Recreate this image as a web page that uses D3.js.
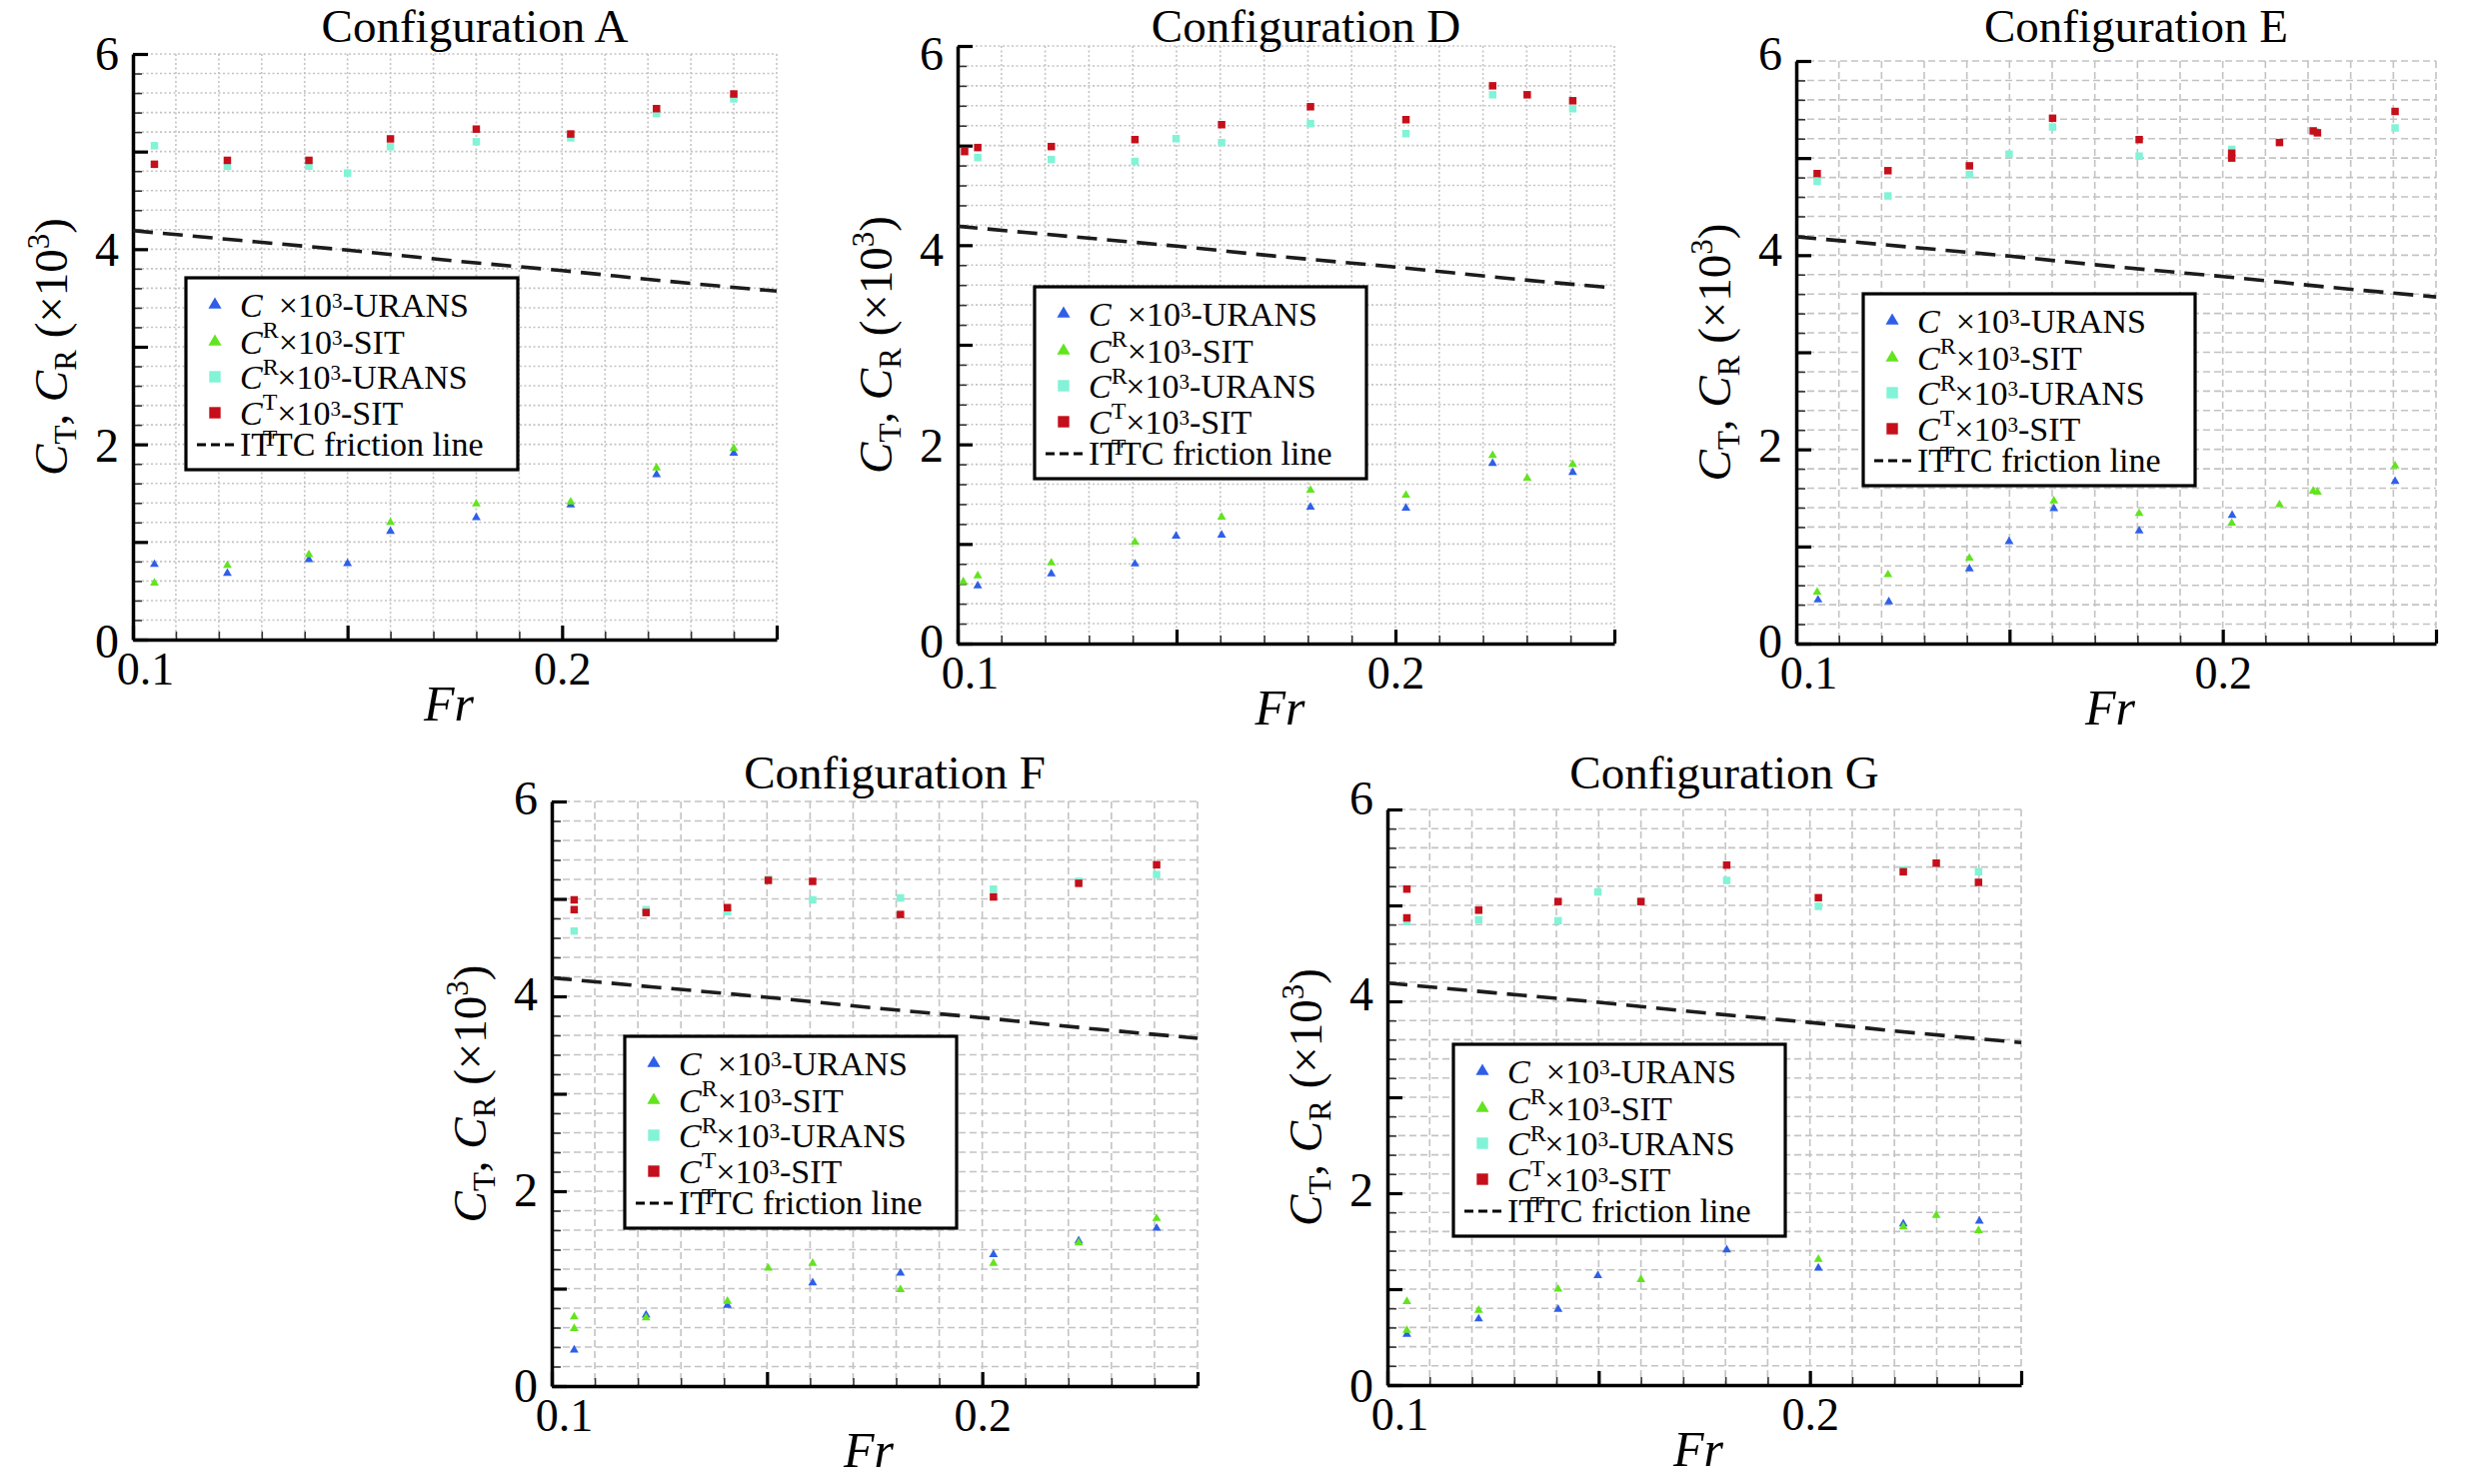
<!DOCTYPE html>
<html><head><meta charset="utf-8">
<script src="https://cdn.jsdelivr.net/npm/d3@7"></script>
<style>
body{margin:0;background:#fff}
svg{display:block}
text{font-family:"Liberation Serif","Times New Roman","DejaVu Serif",serif;fill:#000}
</style>
</head><body>
<svg id="chart" width="2482" height="1485" font-family="Liberation Serif, Times New Roman, serif"></svg>
<script>
// ---------------- DATA (Fr, value x10^3) ----------------
const xTickLabels = [0.1, 0.2];
const yTickLabels = [0, 2, 4, 6];
const seriesNames = ["C_R×10³-URANS", "C_R×10³-SIT", "C_T×10³-URANS", "C_T×10³-SIT", "ITTC friction line"];

const ittcFr = [0.100, 0.125, 0.150, 0.175, 0.200, 0.225, 0.250];
const ittcCF = [4.19, 4.09, 3.99, 3.88, 3.78, 3.67, 3.57];

const A_CR_URANS = [[0.105,0.77],[0.122,0.68],[0.141,0.82],[0.150,0.78],[0.160,1.11],[0.180,1.25],[0.202,1.38],[0.222,1.69],[0.240,1.91]];
const A_CR_SIT   = [[0.105,0.58],[0.122,0.76],[0.141,0.87],[0.160,1.20],[0.180,1.39],[0.202,1.41],[0.222,1.76],[0.240,1.96]];
const A_CT_URANS = [[0.105,5.06],[0.122,4.85],[0.141,4.85],[0.150,4.78],[0.160,5.05],[0.180,5.10],[0.202,5.14],[0.222,5.39],[0.240,5.54]];
const A_CT_SIT   = [[0.105,4.87],[0.122,4.91],[0.141,4.91],[0.160,5.13],[0.180,5.23],[0.202,5.18],[0.222,5.44],[0.240,5.59]];

const D_CR_URANS = [[0.1046,0.58],[0.1214,0.70],[0.1405,0.80],[0.1499,1.08],[0.1603,1.09],[0.1806,1.37],[0.2024,1.36],[0.2222,1.81],[0.2405,1.72]];
const D_CR_SIT   = [[0.1013,0.62],[0.1046,0.68],[0.1214,0.81],[0.1405,1.02],[0.1603,1.27],[0.1806,1.54],[0.2024,1.49],[0.2222,1.89],[0.2301,1.66],[0.2405,1.80]];
const D_CT_URANS = [[0.1046,4.88],[0.1214,4.86],[0.1405,4.84],[0.1499,5.07],[0.1603,5.03],[0.1806,5.22],[0.2024,5.12],[0.2222,5.51],[0.2405,5.37]];
const D_CT_SIT   = [[0.1016,4.94],[0.1046,4.98],[0.1214,4.99],[0.1405,5.06],[0.1603,5.21],[0.1806,5.39],[0.2024,5.26],[0.2222,5.60],[0.2301,5.51],[0.2405,5.45]];

const E_CR_URANS = [[0.1051,0.45],[0.1217,0.43],[0.1406,0.77],[0.1499,1.05],[0.1604,1.39],[0.1804,1.16],[0.2022,1.32],[0.2404,1.67]];
const E_CR_SIT   = [[0.1049,0.53],[0.1215,0.71],[0.1406,0.88],[0.1604,1.47],[0.1804,1.34],[0.2021,1.24],[0.2133,1.43],[0.2212,1.57],[0.2222,1.56],[0.2404,1.83]];
const E_CT_URANS = [[0.1049,4.76],[0.1215,4.61],[0.1406,4.83],[0.1499,5.04],[0.1601,5.32],[0.1804,5.02],[0.2021,5.09],[0.2217,5.27],[0.2404,5.31]];
const E_CT_SIT   = [[0.1049,4.84],[0.1215,4.87],[0.1406,4.92],[0.1601,5.41],[0.1804,5.19],[0.2021,5.05],[0.2021,5.00],[0.2133,5.16],[0.2212,5.28],[0.2222,5.26],[0.2404,5.48]];

const F_CR_URANS = [[0.1052,0.37],[0.1219,0.73],[0.1408,0.83],[0.1606,1.06],[0.1810,1.16],[0.2026,1.35],[0.2224,1.49],[0.2405,1.62]];
const F_CR_SIT   = [[0.1052,0.71],[0.1052,0.59],[0.1219,0.70],[0.1408,0.87],[0.1503,1.21],[0.1606,1.26],[0.1810,0.99],[0.2026,1.26],[0.2224,1.47],[0.2405,1.72]];
const F_CT_URANS = [[0.1052,4.67],[0.1219,4.89],[0.1408,4.87],[0.1503,5.20],[0.1606,4.99],[0.1810,5.01],[0.2026,5.10],[0.2224,5.18],[0.2405,5.25]];
const F_CT_SIT   = [[0.1052,4.99],[0.1052,4.89],[0.1219,4.86],[0.1408,4.91],[0.1503,5.19],[0.1606,5.18],[0.1810,4.84],[0.2026,5.02],[0.2224,5.16],[0.2405,5.35]];

const G_CR_URANS = [[0.1046,0.53],[0.1216,0.69],[0.1404,0.79],[0.1498,1.14],[0.1803,1.41],[0.2020,1.22],[0.2221,1.68],[0.2401,1.71]];
const G_CR_SIT   = [[0.1046,0.87],[0.1046,0.57],[0.1216,0.78],[0.1404,1.00],[0.1600,1.10],[0.1803,1.57],[0.2020,1.31],[0.2221,1.65],[0.2299,1.77],[0.2399,1.61]];
const G_CT_URANS = [[0.1046,4.83],[0.1216,4.85],[0.1404,4.84],[0.1498,5.14],[0.1600,5.04],[0.1803,5.26],[0.2020,4.99],[0.2221,5.37],[0.2399,5.35]];
const G_CT_SIT   = [[0.1046,5.17],[0.1046,4.87],[0.1216,4.95],[0.1404,5.04],[0.1600,5.04],[0.1803,5.42],[0.2020,5.08],[0.2221,5.35],[0.2299,5.44],[0.2399,5.24]];

// ---------------- LAYOUT / STYLE ----------------
const FONT = "'Liberation Serif','Times New Roman','DejaVu Serif',serif";
const colors = {crU:"#2f5fe8", crS:"#62e41f", ctU:"#82f3d6", ctS:"#c50f1a"};
const panels = [
  {title:"Configuration A", box:[133,54,777,640],   ylab:[643,55],   tb:42,  legend:[186,278],  grid:"2,2.5", d:[A_CR_URANS,A_CR_SIT,A_CT_URANS,A_CT_SIT]},
  {title:"Configuration D", box:[958,46,1615,644],  ylab:[643,55],   tb:42,  legend:[1035,287], grid:"2,2.5", d:[D_CR_URANS,D_CR_SIT,D_CT_URANS,D_CT_SIT]},
  {title:"Configuration E", box:[1797,61,2437,644], ylab:[643,55],   tb:42,  legend:[1864,294], grid:"7,4",   d:[E_CR_URANS,E_CR_SIT,E_CT_URANS,E_CT_SIT]},
  {title:"Configuration F", box:[552,802,1198,1387],ylab:[1388,800], tb:789, legend:[625,1037], grid:"7,4",   d:[F_CR_URANS,F_CR_SIT,F_CT_URANS,F_CT_SIT]},
  {title:"Configuration G", box:[1388,810,2022,1386],ylab:[1388,800],tb:789, legend:[1454,1045],grid:"7,4",   d:[G_CR_URANS,G_CR_SIT,G_CT_URANS,G_CT_SIT]}
];

const svg = d3.select("#chart");
svg.append("rect").attr("width",2482).attr("height",1485).attr("fill","#fff");

const tri = s => d3.symbol().type(d3.symbolTriangle).size(s);
const sq  = s => d3.symbol().type(d3.symbolSquare).size(s);

panels.forEach(p => {
  const [x0,y0,x1,y1] = p.box;
  const x = d3.scaleLinear().domain([0.1,0.25]).range([x0,x1]);
  const y = d3.scaleLinear().domain([0,6]).range([y1,y0]);
  const yLab = d3.scaleLinear().domain([0,6]).range(p.ylab);
  const g = svg.append("g");

  // grid
  const gx = d3.range(11,26).map(v=>v/100);
  const gy = d3.range(1,31).map(v=>v/5);
  g.append("g").selectAll("line").data(gx).join("line")
    .attr("x1",d=>x(d)).attr("x2",d=>x(d)).attr("y1",y0).attr("y2",y1)
    .attr("stroke","#c3c3c3").attr("stroke-width",1.6).attr("stroke-dasharray",p.grid);
  g.append("g").selectAll("line").data(gy).join("line")
    .attr("y1",d=>y(d)).attr("y2",d=>y(d)).attr("x1",x0).attr("x2",x1)
    .attr("stroke","#c3c3c3").attr("stroke-width",1.6).attr("stroke-dasharray",p.grid);

  // minor ticks
  const xMinor = g.append("g").attr("transform",`translate(0,${y1})`)
    .call(d3.axisBottom(x).tickValues(gx).tickSize(-8).tickFormat(""));
  xMinor.select(".domain").remove();
  xMinor.selectAll("line").attr("stroke","#333").attr("stroke-width",1.6);
  const yMinor = g.append("g").attr("transform",`translate(${x0},0)`)
    .call(d3.axisLeft(y).tickValues(gy).tickSize(-9).tickFormat(""));
  yMinor.select(".domain").remove();
  yMinor.selectAll("line").attr("stroke","#333").attr("stroke-width",1.6);

  // major axes
  const xAx = g.append("g").attr("transform",`translate(0,${y1})`)
    .call(d3.axisBottom(x).tickValues([0.1,0.15,0.2,0.25]).tickSize(-14).tickSizeOuter(0).tickPadding(12)
      .tickFormat(d => xTickLabels.some(v=>Math.abs(v-d)<1e-9) ? d3.format(".1f")(d) : ""));
  xAx.select(".domain").attr("stroke","#000").attr("stroke-width",3.5);
  xAx.selectAll("line").attr("stroke","#000").attr("stroke-width",3.2);
  xAx.selectAll("text").attr("font-size",46).attr("fill","#000")
    .attr("dx", d => Math.abs(d-0.1)<1e-9 ? 12 : 0);

  const yAx = g.append("g").attr("transform",`translate(${x0},0)`)
    .call(d3.axisLeft(y).tickValues([0,1,2,3,4,5,6]).tickSize(-15).tickSizeOuter(0).tickPadding(14)
      .tickFormat(d => yTickLabels.includes(d) ? String(d) : ""));
  yAx.select(".domain").attr("stroke","#000").attr("stroke-width",3.5);
  yAx.selectAll("line").attr("stroke","#000").attr("stroke-width",3.2);
  yAx.selectAll("text").attr("font-size",48).attr("fill","#000").attr("dy","0.3em")
    .attr("y", d => yLab(d) - y(d));

  // ITTC line
  const line = d3.line().x((d,i)=>x(ittcFr[i])).y(d=>y(d)).curve(d3.curveMonotoneX);
  g.append("path").datum(ittcCF).attr("d",line).attr("fill","none")
    .attr("stroke","#1c1c1c").attr("stroke-width",3.6).attr("stroke-dasharray","20,10");

  // points
  const [crU,crS,ctU,ctS] = p.d;
  const drawPts = (arr, gen, col) => g.append("g").selectAll("path").data(arr).join("path")
    .attr("d", gen).attr("fill", col)
    .attr("transform", d=>`translate(${x(d[0])},${y(d[1])})`);
  drawPts(crU, tri(34), colors.crU);
  drawPts(crS, tri(34), colors.crS);
  drawPts(ctU, sq(56), colors.ctU);
  drawPts(ctS, sq(56), colors.ctS);

  // title
  g.append("text").attr("x",(x0+x1)/2+20).attr("y",p.tb).attr("text-anchor","middle")
    .attr("font-size",47).text(p.title);

  // x label
  g.append("text").attr("x",(x0+x1)/2-6).attr("y",y1+81).attr("text-anchor","middle")
    .attr("font-size",50).attr("font-style","italic").text("Fr");

  // y label
  const yl = g.append("text").attr("transform",`translate(${x0-66},${(y0+y1)/2}) rotate(-90)`)
    .attr("text-anchor","middle").attr("font-size",47);
  yl.append("tspan").attr("font-style","italic").text("C");
  yl.append("tspan").attr("font-size",31).attr("dy",9).text("T");
  yl.append("tspan").attr("dy",-9).text(", ");
  yl.append("tspan").attr("font-style","italic").text("C");
  yl.append("tspan").attr("font-size",31).attr("dy",9).text("R");
  yl.append("tspan").attr("dy",-9).text(" (×10");
  yl.append("tspan").attr("font-size",31).attr("dy",-18).text("3");
  yl.append("tspan").attr("dy",18).text(")");

  // legend
  const [lx,ly] = p.legend;
  const L = g.append("g").attr("transform",`translate(${lx},${ly})`);
  L.append("rect").attr("width",332).attr("height",192).attr("fill","#fff").attr("stroke","#000").attr("stroke-width",3.2);
  const rows = [
    {sym:tri(75), col:colors.crU, sub:"R", tail:"-URANS"},
    {sym:tri(75), col:colors.crS, sub:"R", tail:"-SIT"},
    {sym:sq(130), col:colors.ctU, sub:"T", tail:"-URANS"},
    {sym:sq(130), col:colors.ctS, sub:"T", tail:"-SIT"}
  ];
  const rowY = [27,64,99,135];
  rows.forEach((r,i)=>{
    L.append("path").attr("d",r.sym).attr("fill",r.col).attr("transform",`translate(29,${rowY[i]})`);
    const t = L.append("text").attr("x",54).attr("y",rowY[i]+12).attr("font-size",34);
    t.append("tspan").attr("font-style","italic").text("C");
    t.append("tspan").attr("font-size",24).attr("dy",21).text(r.sub);
    t.append("tspan").attr("dy",-21).text("×10");
    t.append("tspan").attr("font-size",21).attr("dy",-9).text("3");
    t.append("tspan").attr("dy",9).text(r.tail);
  });
  L.append("line").attr("x1",11).attr("x2",52).attr("y1",167).attr("y2",167)
    .attr("stroke","#000").attr("stroke-width",3).attr("stroke-dasharray","9,5");
  L.append("text").attr("x",54).attr("y",178).attr("font-size",34).text("ITTC friction line");
});

svg.selectAll("text").style("font-family", FONT).attr("fill","#000");
</script>
</body></html>
